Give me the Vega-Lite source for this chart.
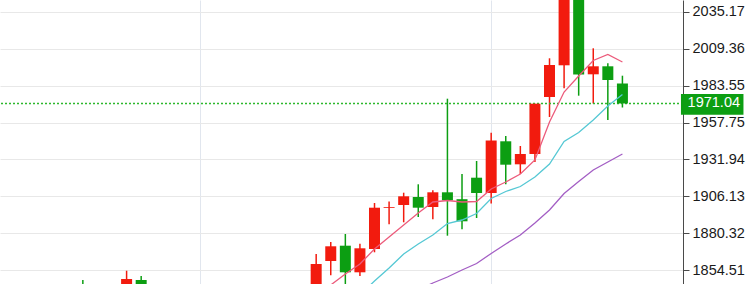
{
  "$schema": "https://vega.github.io/schema/vega-lite/v6.json",
  "width": 683,
  "height": 284,
  "autosize": {"type": "none"},
  "padding": {"left": 0, "top": 0, "right": 65, "bottom": 0},
  "background": "white",
  "config": {"view": {"stroke": null}},
  "data": {
    "values": [
      {"k": 0, "open": 1843.5, "high": 1847.7, "low": 1836, "close": 1840.5},
      {"k": 3, "open": 1842, "high": 1854.19, "low": 1838, "close": 1848.4},
      {"k": 4, "open": 1847.7, "high": 1850.5, "low": 1838, "close": 1842},
      {"k": 16, "open": 1840, "high": 1865.87, "low": 1836, "close": 1858.88, "ma1": 1836},
      {"k": 17, "open": 1860.98, "high": 1874.25, "low": 1850.98, "close": 1871.25, "ma1": 1844.21},
      {"k": 18, "open": 1871.67, "high": 1879.84, "low": 1842, "close": 1853.08, "ma1": 1851.89},
      {"k": 19, "open": 1853.08, "high": 1873.07, "low": 1850.5, "close": 1869.85, "ma1": 1858.88, "ma2": 1837.22},
      {"k": 20, "open": 1869.36, "high": 1901.5, "low": 1867.06, "close": 1898.22, "ma1": 1869.36, "ma2": 1847.0},
      {"k": 21, "open": 1898.0, "high": 1902.55, "low": 1886.62, "close": 1898.57, "ma1": 1877.75, "ma2": 1856.08},
      {"k": 22, "open": 1900.1, "high": 1908.7, "low": 1888.02, "close": 1906.18, "ma1": 1886.13, "ma2": 1865.87},
      {"k": 23, "open": 1905.7, "high": 1914.57, "low": 1891.72, "close": 1898.22, "ma1": 1894.52, "ma2": 1872.86, "ma3": 1840.72},
      {"k": 24, "open": 1898.71, "high": 1910.38, "low": 1890.12, "close": 1908.98, "ma1": 1902.2, "ma2": 1879.15, "ma3": 1845.61},
      {"k": 25, "open": 1908.98, "high": 1974.38, "low": 1878.66, "close": 1903.39, "ma1": 1903.25, "ma2": 1887.18, "ma3": 1849.8},
      {"k": 26, "open": 1904.16, "high": 1921.77, "low": 1883.13, "close": 1888.72, "ma1": 1902.2, "ma2": 1889.62, "ma3": 1854.69},
      {"k": 27, "open": 1919.18, "high": 1930.85, "low": 1891.02, "close": 1908.49, "ma1": 1902.55, "ma2": 1894.17, "ma3": 1859.23},
      {"k": 28, "open": 1908.49, "high": 1950.62, "low": 1901.15, "close": 1945.17, "ma1": 1911.29, "ma2": 1904.65, "ma3": 1866.22},
      {"k": 29, "open": 1944.62, "high": 1948.32, "low": 1914.57, "close": 1928.27, "ma1": 1916.18, "ma2": 1909.54, "ma3": 1872.86},
      {"k": 30, "open": 1928.54, "high": 1941.33, "low": 1921.77, "close": 1935.74, "ma1": 1921.77, "ma2": 1913.03, "ma3": 1879.15},
      {"k": 31, "open": 1935.74, "high": 1970.9, "low": 1930.15, "close": 1970.9, "ma1": 1931.55, "ma2": 1919.67, "ma3": 1887.53},
      {"k": 32, "open": 1975.57, "high": 2002.61, "low": 1961.59, "close": 1997.93, "ma1": 1958.1, "ma2": 1928.75, "ma3": 1896.61},
      {"k": 33, "open": 1997.72, "high": 2060, "low": 1981.65, "close": 2054, "ma1": 1979.06, "ma2": 1944.47, "ma3": 1908.15},
      {"k": 34, "open": 2052, "high": 2062, "low": 1976.48, "close": 1991.29, "ma1": 1990.24, "ma2": 1950.76, "ma3": 1916.53},
      {"k": 35, "open": 1991.43, "high": 2009.6, "low": 1971.03, "close": 1997.02, "ma1": 2001.07, "ma2": 1959.5, "ma3": 1924.56},
      {"k": 36, "open": 1997.02, "high": 1999.12, "low": 1959.5, "close": 1987.45, "ma1": 2005.26, "ma2": 1969.28, "ma3": 1930.15},
      {"k": 37, "open": 1985.0, "high": 1990.45, "low": 1968.23, "close": 1971.04, "ma1": 2000.02, "ma2": 1977.32, "ma3": 1935.74}
    ]
  },
  "layer": [
    {
      "mark": {"type": "rule", "strokeWidth": 1.5, "clip": true},
      "encoding": {
        "x": {
          "field": "k", "type": "quantitative",
          "scale": {"domain": [-5.338, 40.811], "nice": false, "zero": false},
          "axis": {"values": [8, 28], "grid": true, "gridColor": "#e1e6ee", "gridWidth": 1, "labels": false, "ticks": false, "domain": false, "title": null}
        },
        "y": {
          "field": "low", "type": "quantitative",
          "scale": {"domain": [1844.906, 2043.345], "nice": false, "zero": false},
          "axis": {
            "orient": "right", "title": null,
            "values": [1854.51, 1880.32, 1906.13, 1931.94, 1957.75, 1983.55, 2009.36, 2035.17],
            "format": ".2f", "grid": true, "gridColor": "#e8e8e8", "gridWidth": 1,
            "domainColor": "#4a4a4a", "domainWidth": 1, "tickColor": "#4a4a4a", "tickSize": 6,
            "labelPadding": 3, "labelFont": "Liberation Sans", "labelFontSize": 14.5, "labelColor": "#1a1a1a"
          }
        },
        "y2": {"field": "high"},
        "color": {"condition": {"test": "datum.close > datum.open", "value": "#f21b0e"}, "value": "#0c9e12"}
      }
    },
    {
      "data": {"values": [{}]},
      "mark": {"type": "rule", "stroke": "#2db82d", "strokeDash": [2, 2], "strokeWidth": 1.5, "opacity": 1},
      "encoding": {"y": {"datum": 1971.04, "type": "quantitative"}}
    },
    {
      "mark": {"type": "bar", "width": 11, "clip": true},
      "encoding": {
        "x": {"field": "k", "type": "quantitative"},
        "y": {"field": "open", "type": "quantitative"},
        "y2": {"field": "close"},
        "color": {"condition": {"test": "datum.close > datum.open", "value": "#f21b0e"}, "value": "#0c9e12"}
      }
    },
    {
      "mark": {"type": "line", "color": "#ec5b7b", "strokeWidth": 1.3, "clip": true},
      "encoding": {
        "x": {"field": "k", "type": "quantitative"},
        "y": {"field": "ma1", "type": "quantitative"}
      }
    },
    {
      "mark": {"type": "line", "color": "#55c8d4", "strokeWidth": 1.3, "clip": true},
      "encoding": {
        "x": {"field": "k", "type": "quantitative"},
        "y": {"field": "ma2", "type": "quantitative"}
      }
    },
    {
      "mark": {"type": "line", "color": "#a35ec4", "strokeWidth": 1.3, "clip": true},
      "encoding": {
        "x": {"field": "k", "type": "quantitative"},
        "y": {"field": "ma3", "type": "quantitative"}
      }
    },
    {
      "data": {"values": [{}]},
      "mark": {"type": "rect", "color": "#0c9e12"},
      "encoding": {
        "x": {"datum": 41.014, "type": "quantitative"},
        "x2": {"datum": 45.3},
        "y": {"datum": 1977.66, "type": "quantitative"},
        "y2": {"datum": 1963.16}
      }
    },
    {
      "data": {"values": [{"label": "1971.04"}]},
      "mark": {"type": "text", "align": "left", "baseline": "middle", "color": "white", "font": "Liberation Sans", "fontSize": 14.5},
      "encoding": {
        "x": {"datum": 41.47, "type": "quantitative"},
        "y": {"datum": 1971.04, "type": "quantitative"},
        "text": {"field": "label"}
      }
    }
  ]
}
